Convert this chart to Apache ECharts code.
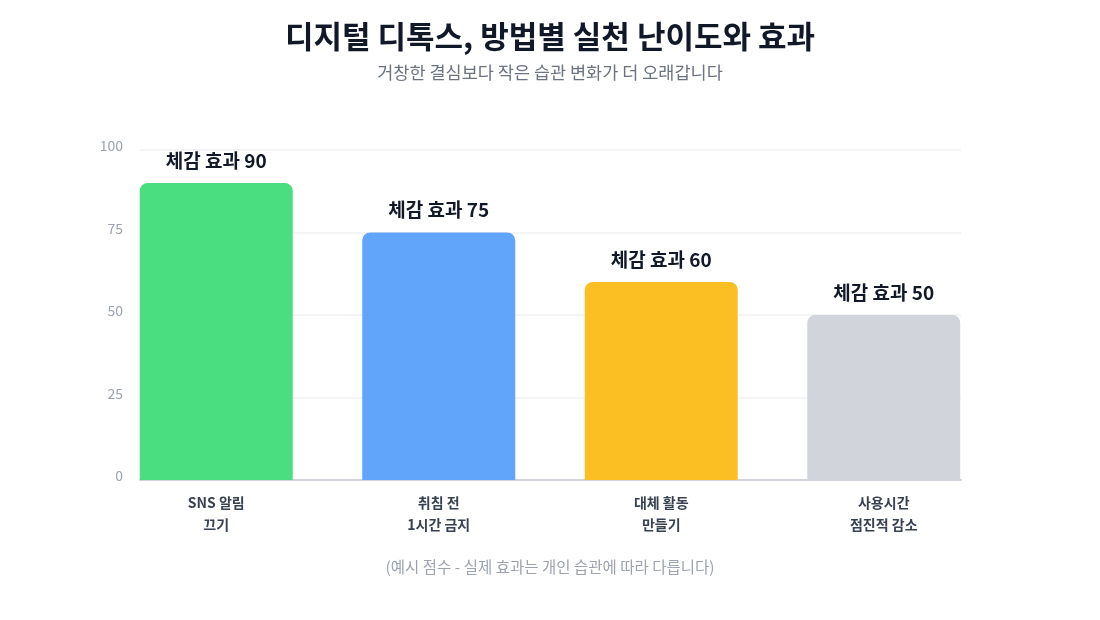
<!DOCTYPE html>
<html>
<head>
<meta charset="utf-8">
<script src="https://cdn.jsdelivr.net/npm/echarts@6/dist/echarts.min.js"></script>
<style>
  html, body { margin: 0; padding: 0; background: #fff; }
  #detoxChart { width: 1100px; height: 620px; }
</style>
</head>
<body>
<div id="detoxChart"></div>
<script>
// data
var methods = ['SNS 알림\n끄기', '취침 전\n1시간 금지', '대체 활동\n만들기', '사용시간\n점진적 감소'];
var effectScores = [90, 75, 60, 50];
var barColors = ['#4ADE80', '#60A5FA', '#FBBF24', '#D1D5DB'];
var yTicks = [0, 25, 50, 75, 100];

var font = "'Noto Sans CJK KR', 'Noto Sans', sans-serif";

var chart = echarts.init(document.getElementById('detoxChart'));

var option = {
    backgroundColor: '#ffffff',
    textStyle: { fontFamily: font },
    title: [
        {
            text: '디지털 디톡스, 방법별 실천 난이도와 효과',
            subtext: '거창한 결심보다 작은 습관 변화가 더 오래갑니다',
            left: 'center',
            top: 16,
            itemGap: 12,
            textStyle: { fontSize: 31, fontWeight: 'bold', color: '#111827', fontFamily: font },
            subtextStyle: { fontSize: 17.5, color: '#6B7280', fontFamily: font }
        },
        {
            text: '(예시 점수 - 실제 효과는 개인 습관에 따라 다릅니다)',
            left: 'center',
            top: 554,
            textStyle: { fontSize: 15.5, fontWeight: 'normal', color: '#9CA3AF', fontFamily: font }
        }
    ],
    grid: [
        // axis frame: gridlines + baseline
        { left: 140, right: 139, top: 150, bottom: 140 },
        // bars + category labels
        { left: 105, right: 105, top: 150, bottom: 140 }
    ],
    xAxis: [
        {
            gridIndex: 0,
            type: 'category',
            data: methods,
            axisLine: { show: true, lineStyle: { color: '#D1D5DB', width: 2 } },
            axisTick: { show: false },
            axisLabel: { show: false },
            splitLine: { show: false }
        },
        {
            gridIndex: 1,
            type: 'category',
            data: methods,
            axisLine: { show: false },
            axisTick: { show: false },
            axisLabel: {
                color: '#374151',
                fontSize: 14,
                fontWeight: 'bold',
                lineHeight: 22,
                margin: 12,
                fontFamily: font
            }
        }
    ],
    yAxis: [
        {
            gridIndex: 0,
            type: 'value',
            min: yTicks[0],
            max: yTicks[yTicks.length - 1],
            interval: 25,
            axisLine: { show: false },
            axisTick: { show: false },
            axisLabel: {
                color: '#9CA3AF',
                fontSize: 14,
                margin: 17,
                verticalAlign: 'bottom',
                lineHeight: 8,
                fontFamily: font
            },
            splitLine: { lineStyle: { color: '#F3F4F6', width: 2 } }
        },
        {
            gridIndex: 1,
            type: 'value',
            min: yTicks[0],
            max: yTicks[yTicks.length - 1],
            interval: 25,
            show: false,
            splitLine: { show: false }
        }
    ],
    series: [
        {
            type: 'bar',
            xAxisIndex: 1,
            yAxisIndex: 1,
            barWidth: 153,
            data: effectScores.map(function (v, i) {
                return { value: v, itemStyle: { color: barColors[i], borderRadius: [8, 8, 0, 0] } };
            }),
            label: {
                show: true,
                position: 'top',
                distance: 13,
                formatter: '체감 효과 {c}',
                color: '#111827',
                fontSize: 19,
                fontWeight: 'bold',
                fontFamily: font
            }
        }
    ]
};

chart.setOption(option);
</script>
</body>
</html>
